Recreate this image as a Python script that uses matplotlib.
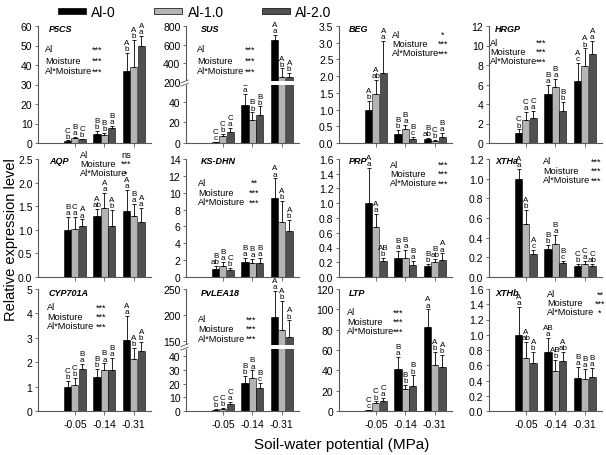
import matplotlib.pyplot as plt
import numpy as np
from matplotlib.patches import Patch, Rectangle

plt.rcParams['font.family'] = ['Liberation Sans', 'DejaVu Sans']

W, H = 606, 456
moisture = ['-0.05', '-0.14', '-0.31']
treatments = ['Al-0', 'Al-1.0', 'Al-2.0']
colors = ['#000000', '#b4b4b4', '#505050']

genes = ['P5CS', 'SUS', 'BEG', 'HRGP', 'AQP', 'KS-DHN', 'PRP', 'XTHa',
         'CYP701A', 'PvLEA18', 'LTP', 'XTHb']

# rows: Al-0, Al-1.0, Al-2.0 ; columns: -0.05, -0.14, -0.31 MPa
p5cs_mean = [[1.0, 4.7, 37.0], [2.6, 3.9, 39.0], [1.8, 7.5, 50.0]]
p5cs_err = [[0.3, 1.4, 9.0], [0.5, 1.4, 14.0], [0.4, 1.3, 5.0]]
p5cs_let = [['C b', 'B b', 'A b'], ['B a', 'B b', 'A b'], ['C b', 'B a', 'A a']]

sus_mean = [[1.0, 37.4, 650], [7.2, 22.8, 250], [11.0, 27.6, 250]]
sus_err = [[0.3, 10.4, 55], [1.8, 7.0, 95], [4.0, 8.0, 45]]
sus_let = [['C c', 'B a', 'A a'], ['C b', 'B b', 'A b'], ['C a', 'B b', 'A b']]

beg_mean = [[1.0, 0.28, 0.13], [1.47, 0.41, 0.07], [2.08, 0.12, 0.18]]
beg_err = [[0.27, 0.10, 0.03], [0.42, 0.13, 0.03], [0.98, 0.06, 0.12]]
beg_let = [['A b', 'B b', 'B ab'], ['A ab', 'B a', 'C b'], ['A a', 'B c', 'B a']]

hrgp_mean = [[1.0, 5.0, 6.4], [2.4, 5.7, 7.9], [2.6, 3.3, 9.1]]
hrgp_err = [[0.4, 1.0, 1.8], [0.75, 0.9, 1.8], [0.7, 0.9, 1.4]]
hrgp_let = [['C b', 'B a', 'A c'], ['C a', 'B a', 'A b'], ['C a', 'B b', 'A a']]

aqp_mean = [[1.0, 1.29, 1.39], [1.02, 1.46, 1.29], [1.09, 1.09, 1.16]]
aqp_err = [[0.27, 0.16, 0.46], [0.25, 0.33, 0.25], [0.13, 0.33, 0.30]]
aqp_let = [['B a', 'A ab', 'A a'], ['C a', 'A a', 'B a'], ['A a', 'A b', 'A a']]

ksdhn_mean = [[1.0, 1.8, 9.4], [1.32, 1.68, 6.5], [0.88, 1.72, 5.5]]
ksdhn_err = [[0.3, 0.45, 2.3], [0.45, 0.5, 2.5], [0.2, 0.55, 1.3]]
ksdhn_let = [['B ab', 'B a', 'A a'], ['B a', 'B a', 'A b'], ['C b', 'B a', 'A b']]

prp_mean = [[1.0, 0.26, 0.15], [0.68, 0.26, 0.20], [0.22, 0.165, 0.23]]
prp_err = [[0.48, 0.09, 0.03], [0.18, 0.11, 0.05], [0.04, 0.055, 0.09]]
prp_let = [['A a', 'B a', 'B b'], ['A a', 'B a', 'B ab'], ['AB b', 'B a', 'A a']]

xtha_mean = [[1.0, 0.28, 0.113], [0.54, 0.34, 0.13], [0.237, 0.14, 0.113]]
xtha_err = [[0.1, 0.05, 0.02], [0.14, 0.09, 0.035], [0.035, 0.025, 0.02]]
xtha_let = [['A a', 'B b', 'C b'], ['A b', 'B a', 'C a'], ['A c', 'B c', 'C ab']]

cyp_mean = [[1.0, 1.41, 2.9], [1.07, 1.67, 2.15], [1.74, 1.67, 2.44]]
cyp_err = [[0.25, 0.3, 1.0], [0.27, 0.28, 0.45], [0.18, 0.52, 0.4]]
cyp_let = [['C b', 'B b', 'A a'], ['C b', 'B a', 'A b'], ['B a', 'B a', 'A b']]

lea_mean = [[1.0, 20.2, 196], [1.5, 24.5, 172], [5.2, 16.8, 159]]
lea_err = [[0.3, 5.6, 50], [0.5, 5.2, 55], [1.3, 4.0, 31]]
lea_let = [['C b', 'B b', 'A a'], ['C b', 'B a', 'A b'], ['C a', 'B c', 'A b']]

ltp_mean = [[1.0, 41.8, 83.0], [7.5, 21.3, 45.3], [10.3, 25.0, 42.9]]
ltp_err = [[0.3, 11.0, 17.0], [2.0, 4.4, 13.0], [2.7, 10.0, 12.0]]
ltp_let = [['C c', 'B a', 'A a'], ['C b', 'B b', 'A b'], ['C a', 'B b', 'A b']]

xthb_mean = [[1.0, 0.78, 0.43], [0.69, 0.52, 0.425], [0.635, 0.65, 0.44]]
xthb_err = [[0.37, 0.18, 0.15], [0.22, 0.15, 0.125], [0.14, 0.12, 0.13]]
xthb_let = [['A a', 'AB a', 'B a'], ['A ab', 'AB b', 'B a'], ['A b', 'A ab', 'B a']]

stat_names = ['Al', 'Moisture', 'Al*Moisture']
stats = [['***', '***', '***'], ['***', '***', '***'], ['*', '***', '***'],
         ['***', '***', '***'], ['ns', '***', '*'], ['**', '***', '***'],
         ['***', '***', '***'], ['***', '***', '***'], ['***', '***', '***'],
         ['***', '***', '***'], ['***', '***', '***'], ['**', '***', '*']]

means = [p5cs_mean, sus_mean, beg_mean, hrgp_mean, aqp_mean, ksdhn_mean,
         prp_mean, xtha_mean, cyp_mean, lea_mean, ltp_mean, xthb_mean]
errs = [p5cs_err, sus_err, beg_err, hrgp_err, aqp_err, ksdhn_err,
        prp_err, xtha_err, cyp_err, lea_err, ltp_err, xthb_err]
lets = [p5cs_let, sus_let, beg_let, hrgp_let, aqp_let, ksdhn_let,
        prp_let, xtha_let, cyp_let, lea_let, ltp_let, xthb_let]

# axis setup per panel: (ymax, ticks, fmt)
yset = [
    (60, np.arange(0, 61, 10), '%d'),
    (800, [0, 20, 40, 200, 400, 600, 800], '%d'),
    (3.5, np.arange(0, 3.51, 0.5), '%.1f'),
    (12, np.arange(0, 13, 2), '%d'),
    (2.5, np.arange(0, 2.51, 0.5), '%.1f'),
    (14, np.arange(0, 15, 2), '%d'),
    (1.6, np.arange(0, 1.61, 0.2), '%.1f'),
    (1.2, np.arange(0, 1.21, 0.2), '%.1f'),
    (5, np.arange(0, 6, 1), '%d'),
    (250, [0, 10, 20, 30, 40, 150, 200, 250], '%d'),
    (120, np.arange(0, 121, 20), '%d'),
    (1.6, np.arange(0, 1.61, 0.2), '%.1f'),
]
# broken axes: value breakpoints -> pixel heights, and white band in px
breaks = {1: ([0, 58, 200, 800], [0, 59.5, 61, 117], (58.3, 61.6)),
          9: ([0, 45, 150, 250], [0, 58, 65.7, 115], (58.8, 62.0))}

col_left = [38, 186, 339, 489]
row_span = [(27, 144), (160, 278), (290, 412)]
ax_w = 113
title_x = [49, 201, 349, 495]
title_y = [30, 162, 294]
# stats text blocks: label x, star x, first line y, line step (pixels)
stat_pos = [(45, 97, 50, 11), (197, 250, 50, 11), (392, 443, 35, 9.5),
            (490, 541, 43, 9.5), (80, 126, 155, 9.5), (198, 254, 183, 10),
            (390, 443, 165, 9.5), (543, 596, 162, 9.5), (47, 101, 308, 9.5),
            (198, 251, 320, 9.5), (347, 398, 313, 9.5), (547, 600, 295, 9)]

fig = plt.figure(figsize=(W / 100, H / 100), dpi=100)
xg = np.arange(3)
bw = 0.24
spine_c = '#595959'

for k, g in enumerate(genes):
    r, c = divmod(k, 4)
    top, zero = row_span[r]
    ax = fig.add_axes([col_left[c] / W, 1 - zero / H, ax_w / W, (zero - top) / H])
    ymax, ticks, fmt = yset[k]
    if k in breaks:
        yy, tt, band = breaks[k]
        ax.set_yscale('function', functions=(lambda y, yy=yy, tt=tt: np.interp(y, yy, tt),
                                             lambda t, yy=yy, tt=tt: np.interp(t, tt, yy)))
    m = np.array(means[k])
    e = np.array(errs[k])
    for j in range(3):
        xs = xg + (j - 1) * (bw + 0.01)
        ax.bar(xs, m[j], bw, color=colors[j], edgecolor='black', lw=0.4, zorder=2)
        ax.errorbar(xs, m[j], yerr=[np.zeros(3), e[j]], fmt='none', ecolor='black',
                    elinewidth=0.6, capsize=1.6, capthick=0.6, zorder=3)
        for i in range(3):
            up, lo = lets[k][j][i].split()
            ax.annotate(up + '\n' + lo, (xs[i], m[j][i] + e[j][i]), xytext=(0, 0.6),
                        textcoords='offset points', ha='center', va='bottom',
                        fontsize=5.8, linespacing=0.82, annotation_clip=False)
    ax.set_xlim(-1.25, 2.58)
    ax.set_ylim(0, ymax)
    ax.set_yticks(ticks)
    ax.set_yticklabels([fmt % t for t in ticks])
    ax.set_xticks(xg)
    ax.set_xticklabels(moisture)
    ax.tick_params(axis='y', length=2.5, width=0.6, labelsize=7.5, pad=1.5, color=spine_c)
    ax.tick_params(axis='x', length=3, width=0.6, labelsize=7.5, pad=3, color=spine_c,
                   labelbottom=(r == 2))
    for s in ['top', 'right']:
        ax.spines[s].set_visible(False)
    for s in ['left', 'bottom']:
        ax.spines[s].set_color(spine_c)
        ax.spines[s].set_linewidth(0.8)
    if k in breaks:
        yy, tt, band = breaks[k]
        b0, b1 = band[0] / tt[-1], band[1] / tt[-1]
        ax.add_patch(Rectangle((-0.04, b0), 1.04, b1 - b0, transform=ax.transAxes,
                               fc='white', ec='none', zorder=6, clip_on=False))
        for yb in (b0, b1):
            ax.plot([-0.045, 0.02], [yb - 0.012, yb + 0.012], transform=ax.transAxes,
                    color=spine_c, lw=0.6, clip_on=False, zorder=7)
    fig.text(title_x[c] / W, 1 - title_y[r] / H, g, fontsize=6.5, fontweight='bold',
             fontstyle='italic', ha='left', va='center')
    lx, sx, sy, st = stat_pos[k]
    for n in range(3):
        fig.text(lx / W, 1 - (sy + n * st) / H, stat_names[n], fontsize=6.6,
                 ha='left', va='center')
        fig.text(sx / W, 1 - (sy + n * st) / H, stats[k][n], fontsize=6.6,
                 ha='center', va='center')

handles = [Patch(fc=colors[j], ec='black', lw=0.5) for j in range(3)]
fig.legend(handles, treatments, loc='center left', bbox_to_anchor=(58 / W, 1 - 13 / H),
           ncol=3, frameon=False, fontsize=10, handlelength=2.0, handleheight=0.32,
           handletextpad=0.4, columnspacing=2.75, borderaxespad=0, borderpad=0)
fig.text(11 / W, 1 - 240 / H, 'Relative expression level', rotation=90,
         ha='center', va='center', fontsize=10.5)
fig.text(342 / W, 1 - 445 / H, 'Soil-water potential (MPa)', ha='center',
         va='center', fontsize=11)

fig.savefig('out.png', dpi=100)
